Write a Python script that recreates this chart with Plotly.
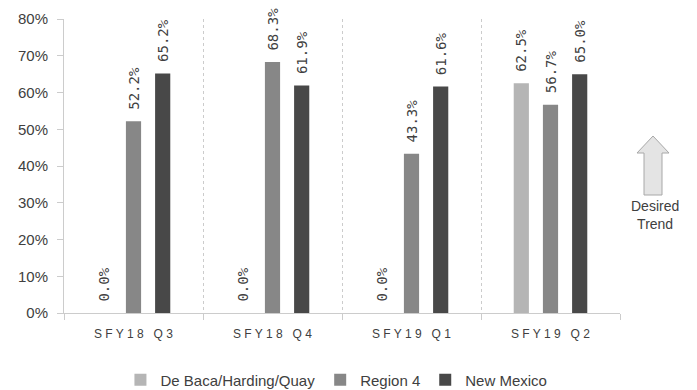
import plotly.graph_objects as go

categories = ["S F Y 1 8   Q 3", "S F Y 1 8   Q 4", "S F Y 1 9   Q 1", "S F Y 1 9   Q 2"]
series_names = ["De Baca/Harding/Quay", "Region 4", "New Mexico"]
debaca = [0.0, 0.0, 0.0, 0.625]
region4 = [0.522, 0.683, 0.433, 0.567]
newmexico = [0.652, 0.619, 0.616, 0.650]
colors = ["#b5b5b5", "#878787", "#484848"]
yticks = [0, 0.1, 0.2, 0.3, 0.4, 0.5, 0.6, 0.7, 0.8]

L, R, T, B = 64, 77, 19, 77
W, H = 697, 390

fig = go.Figure()
for name, vals, col in zip(series_names, [debaca, region4, newmexico], colors):
    fig.add_trace(go.Bar(
        x=categories, y=vals, name=name,
        marker=dict(color=col, line=dict(color=col, width=0)),
        text=["\u00a0" + f"{v*100:.1f}%" for v in vals],
        textposition="outside", textangle=-90, constraintext="none",
        textfont=dict(family="DejaVu Sans Mono", size=14, color="#404040"),
        cliponaxis=False, hoverinfo="skip",
    ))

fig.update_layout(
    width=W, height=H,
    margin=dict(l=L, r=R, t=T, b=B, autoexpand=False),
    paper_bgcolor="white", plot_bgcolor="white",
    barmode="group", bargap=0.37, bargroupgap=0.48,
    font=dict(family="Liberation Sans", color="#404040"),
    showlegend=True,
    legend=dict(orientation="h", x=0.49, xanchor="center", y=-0.228, yanchor="middle",
                font=dict(size=15, color="#404040"), traceorder="normal", itemwidth=30),
    xaxis=dict(
        tickson="boundaries", showgrid=True, gridcolor="#cccccc", griddash="dot", gridwidth=1,
        showline=True, linecolor="#cccccc", ticks="outside", ticklen=6, tickcolor="#cccccc",
        tickfont=dict(size=12, color="#404040"), ticklabelstandoff=10,
    ),
    yaxis=dict(
        range=[0, 0.8], tickvals=yticks, tickformat=".0%", showgrid=False,
        showline=True, linecolor="#cccccc", ticks="outside", ticklen=6, tickcolor="#cccccc",
        tickfont=dict(size=15, color="#404040"), zeroline=False, ticklabelstandoff=6,
    ),
)

# Desired trend arrow (decoration), defined in pixels then mapped to plot-paper domain
def to_dom_x(x):
    return (x - L) / (W - L - R)
def to_dom_y(y):
    return (H - B - y) / (H - T - B)
pts = [(653, 136), (669, 153), (662, 153), (662, 195), (644, 195), (644, 153), (637, 153)]
path = "M " + " L ".join(f"{to_dom_x(x)},{to_dom_y(y)}" for x, y in pts) + " Z"
fig.add_shape(type="path", xref="paper", yref="paper", path=path,
              fillcolor="#e4e4e4", line=dict(color="#a8a8a8", width=1))
fig.add_annotation(xref="paper", yref="paper", x=to_dom_x(655), y=to_dom_y(215),
                   xanchor="center", yanchor="middle",
                   text="Desired<br>Trend", showarrow=False,
                   font=dict(size=14, color="#404040"), align="center")

fig.write_html("out.html", config={"displayModeBar": False},
               post_script="document.body.style.margin='0';")
